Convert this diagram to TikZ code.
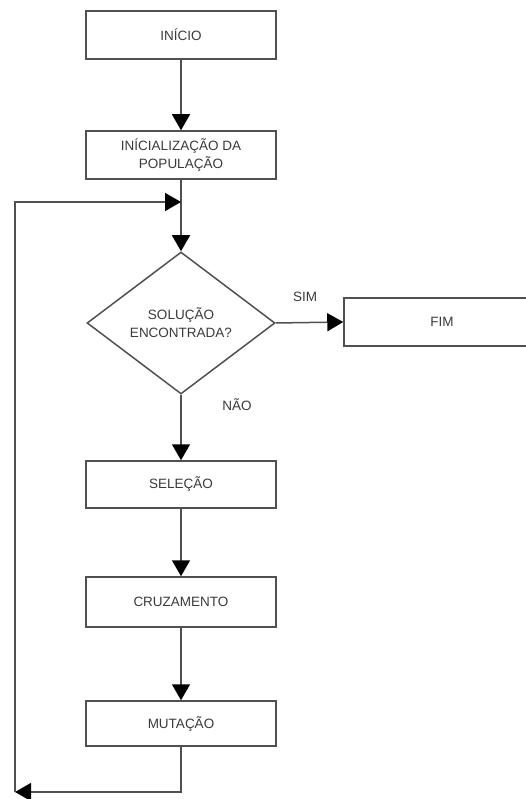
\documentclass[tikz,border=0pt]{standalone}
\usepackage{fontspec}
\setmainfont{Liberation Sans}
\usetikzlibrary{shapes.geometric,arrows.meta}
\definecolor{linegray}{HTML}{505050}
\definecolor{textgray}{HTML}{3A3A3A}
\begin{document}
\begin{tikzpicture}[x=1pt,y=-1pt,
  txt/.style={text=textgray,font=\fontsize{13.5}{18}\selectfont},
  box/.style={txt,draw=linegray,line width=1.5pt,minimum width=190pt,minimum height=48pt,inner sep=0pt,align=center},
  dec/.style={txt,diamond,draw=linegray,line width=1.5pt,minimum width=188pt,minimum height=142pt,inner sep=0pt,align=center},
  conn/.style={draw=linegray,line width=1.5pt,-{Triangle[length=16pt,width=18pt,color=black]}},
  lbl/.style={txt}]
\useasboundingbox (0,0) rectangle (525,799);
\node[box] (ini) at (181,35) {INÍCIO};
\node[box] (pop) at (181,155) {INÍCIALIZAÇÃO DA\\POPULAÇÃO};
\node[dec] (sol) at (181,323) {SOLUÇÃO\\ENCONTRADA?};
\node[box,minimum width=196pt] (fim) at (442,322) {FIM};
\node[box,minimum height=47pt] (sel) at (181,484.5) {SELEÇÃO};
\node[box,minimum height=50pt] (cru) at (181,602) {CRUZAMENTO};
\node[box,minimum height=45pt] (mut) at (181,723.5) {MUTAÇÃO};
\node[lbl] (sim) at (305,297) {SIM};
\node[lbl] (nao) at (237,405) {NÃO};
\coordinate (join) at (181,202);
\coordinate (corner) at (15,792);
\draw[conn] (ini) -- (pop);
\draw[conn] (pop) -- (sol);
\draw[conn] (sol.east) -- (fim.west);
\draw[conn] (sol) -- (sel);
\draw[conn] (sel) -- (cru);
\draw[conn] (cru) -- (mut);
\draw[conn] (mut.south) |- (corner);
\draw[conn] (corner) |- (join);
\end{tikzpicture}
\end{document}
